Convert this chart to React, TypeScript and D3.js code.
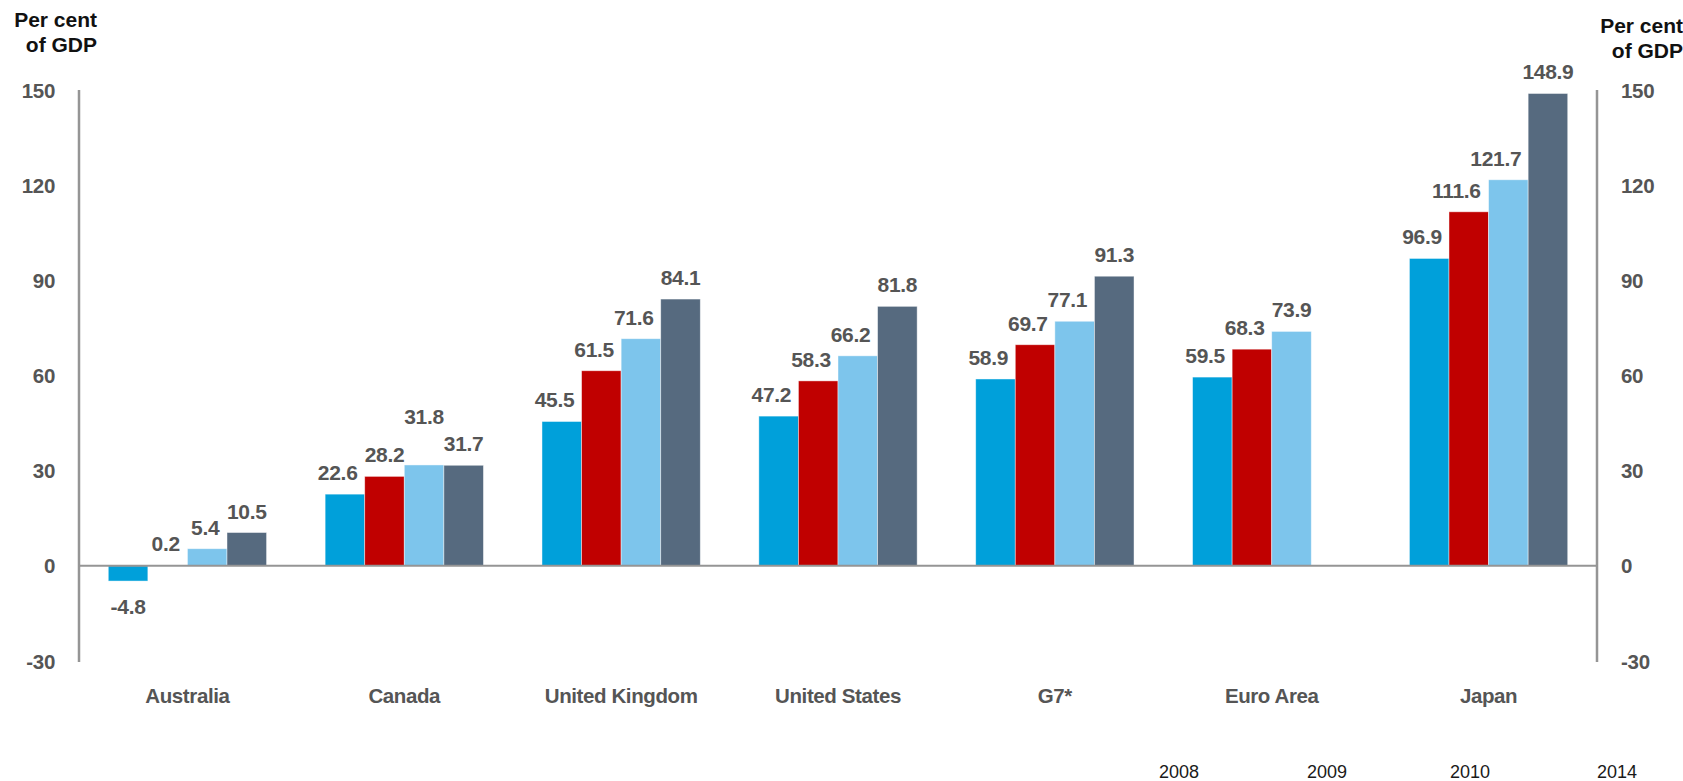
import React from "react";
import * as d3 from "d3";

const categories = ["Australia", "Canada", "United Kingdom", "United States", "G7*", "Euro Area", "Japan"];
const seriesNames = ["2008", "2009", "2010", "2014"];
const values2008 = [-4.8, 22.6, 45.5, 47.2, 58.9, 59.5, 96.9];
const values2009 = [0.2, 28.2, 61.5, 58.3, 69.7, 68.3, 111.6];
const values2010 = [5.4, 31.8, 71.6, 66.2, 77.1, 73.9, 121.7];
const values2014 = [10.5, 31.7, 84.1, 81.8, 91.3, null, 148.9];
const yTicks = [-30, 0, 30, 60, 90, 120, 150];
const colors = ["#00A0DA", "#C00000", "#7DC5EC", "#566A7F"];

const W = 1683;
const H = 781;
const left = 79;
const right = 1597;
const top = 90;
const bottom = 661;

type Lbl = { key: string; v: number; cx: number; tw: number; base: number; txt: string };

export default function App() {
  const seriesValues = [values2008, values2009, values2010, values2014];
  const y = d3.scaleLinear().domain([-30, 150]).range([bottom, top]);
  const x0 = d3.scaleBand<string>().domain(categories).range([left, right]).padding(0);
  const bw = x0.bandwidth();
  const gw = bw * 0.73;
  const x1 = d3
    .scaleBand<string>()
    .domain(seriesNames)
    .range([(bw - gw) / 2, (bw + gw) / 2])
    .padding(0);

  const labelFont = "'Liberation Sans', Arial, sans-serif";
  const labelColor = "#555555";
  const axisColor = "#959595";
  const lfs = 21;

  const bars: React.ReactNode[] = [];
  const allLabels: Lbl[] = [];
  categories.forEach((c, ci) => {
    const group: Lbl[] = [];
    seriesNames.forEach((s, si) => {
      const v = seriesValues[si][ci];
      if (v === null || v === undefined) return;
      const bx = (x0(c) as number) + (x1(s) as number);
      const w = x1.bandwidth();
      const y0 = y(0);
      const yv = y(v);
      bars.push(
        <rect
          key={`b-${ci}-${si}`}
          x={bx}
          y={Math.min(y0, yv)}
          width={w}
          height={Math.abs(yv - y0)}
          fill={colors[si]}
          stroke="#ffffff"
          strokeOpacity={0.55}
          strokeWidth={0.8}
        />
      );
      let cx = bx + w / 2;
      const txt = v.toFixed(1);
      const tw = txt.length * 0.5 * lfs;
      const base = v >= 0 ? yv - 14 : yv + 33;
      if (v >= 0) {
        // keep the label clear of the next (taller) bar in the group
        const nv = si + 1 < seriesNames.length ? seriesValues[si + 1][ci] : null;
        if (nv !== null && nv !== undefined) {
          const nextLeft = bx + w;
          const nextTop = y(nv);
          if (base > nextTop + 2 && cx + tw / 2 > nextLeft - 6) {
            cx = nextLeft - 6 - tw / 2;
          }
        }
      }
      group.push({ key: `l-${ci}-${si}`, v, cx, tw, base, txt });
    });
    // resolve collisions: taller bars' labels move up
    const sorted = [...group].sort((a, b) => a.v - b.v);
    const placed: Lbl[] = [];
    sorted.forEach((l) => {
      if (l.v >= 0) {
        placed.forEach((p) => {
          const hOverlap = l.cx - l.tw / 2 < p.cx + p.tw / 2 && l.cx + l.tw / 2 > p.cx - p.tw / 2;
          const vOverlap = Math.abs(l.base - p.base) < lfs * 0.85;
          if (hOverlap && vOverlap) l.base = Math.min(l.base, p.base - lfs - 6);
        });
      }
      placed.push(l);
    });
    group.forEach((l) => allLabels.push(l));
  });

  const legendX = [1179, 1327, 1470, 1617];

  return (
    <svg
      width={W}
      height={H}
      style={{ position: "absolute", left: 0, top: 0, background: "#ffffff" }}
    >
      <rect x={0} y={0} width={W} height={H} fill="#ffffff" />
      {/* titles */}
      <text x={97} y={27} textAnchor="end" fontFamily={labelFont} fontWeight="bold" fontSize={21} fill="#111">
        Per cent
      </text>
      <text x={97} y={52} textAnchor="end" fontFamily={labelFont} fontWeight="bold" fontSize={21} fill="#111">
        of GDP
      </text>
      <text x={1683} y={33} textAnchor="end" fontFamily={labelFont} fontWeight="bold" fontSize={21} fill="#111">
        Per cent
      </text>
      <text x={1683} y={58} textAnchor="end" fontFamily={labelFont} fontWeight="bold" fontSize={21} fill="#111">
        of GDP
      </text>

      {/* y tick labels */}
      {yTicks.map((t) => (
        <g key={`t-${t}`}>
          <text
            x={55}
            y={y(t) + 7.5}
            textAnchor="end"
            fontFamily={labelFont}
            fontWeight="bold"
            fontSize={20.5}
            letterSpacing={-0.3}
            fill={labelColor}
          >
            {t}
          </text>
          <text
            x={1621}
            y={y(t) + 7.5}
            textAnchor="start"
            fontFamily={labelFont}
            fontWeight="bold"
            fontSize={20.5}
            letterSpacing={-0.3}
            fill={labelColor}
          >
            {t}
          </text>
        </g>
      ))}

      {/* bars */}
      {bars}

      {/* axes */}
      <line x1={left} x2={left} y1={top} y2={bottom + 1} stroke={axisColor} strokeWidth={2.5} />
      <line x1={right} x2={right} y1={top} y2={bottom + 1} stroke={axisColor} strokeWidth={2.5} />
      <line x1={left} x2={right} y1={y(0)} y2={y(0)} stroke={axisColor} strokeWidth={2} />

      {/* value labels */}
      {allLabels.map((l) => (
        <text
          key={l.key}
          x={l.cx}
          y={l.base}
          textAnchor="middle"
          fontFamily={labelFont}
          fontWeight="bold"
          fontSize={lfs}
          letterSpacing={-0.3}
          fill={labelColor}
        >
          {l.txt}
        </text>
      ))}

      {/* category labels */}
      {categories.map((c) => (
        <text
          key={`c-${c}`}
          x={(x0(c) as number) + bw / 2}
          y={703}
          textAnchor="middle"
          fontFamily={labelFont}
          fontWeight="bold"
          fontSize={20.5}
          letterSpacing={-0.4}
          fill={labelColor}
        >
          {c}
        </text>
      ))}

      {/* legend text */}
      {seriesNames.map((s, i) => (
        <text
          key={`lg-${s}`}
          x={legendX[i]}
          y={778}
          textAnchor="middle"
          fontFamily={labelFont}
          fontSize={18}
          fill="#1a1a1a"
        >
          {s}
        </text>
      ))}
    </svg>
  );
}
